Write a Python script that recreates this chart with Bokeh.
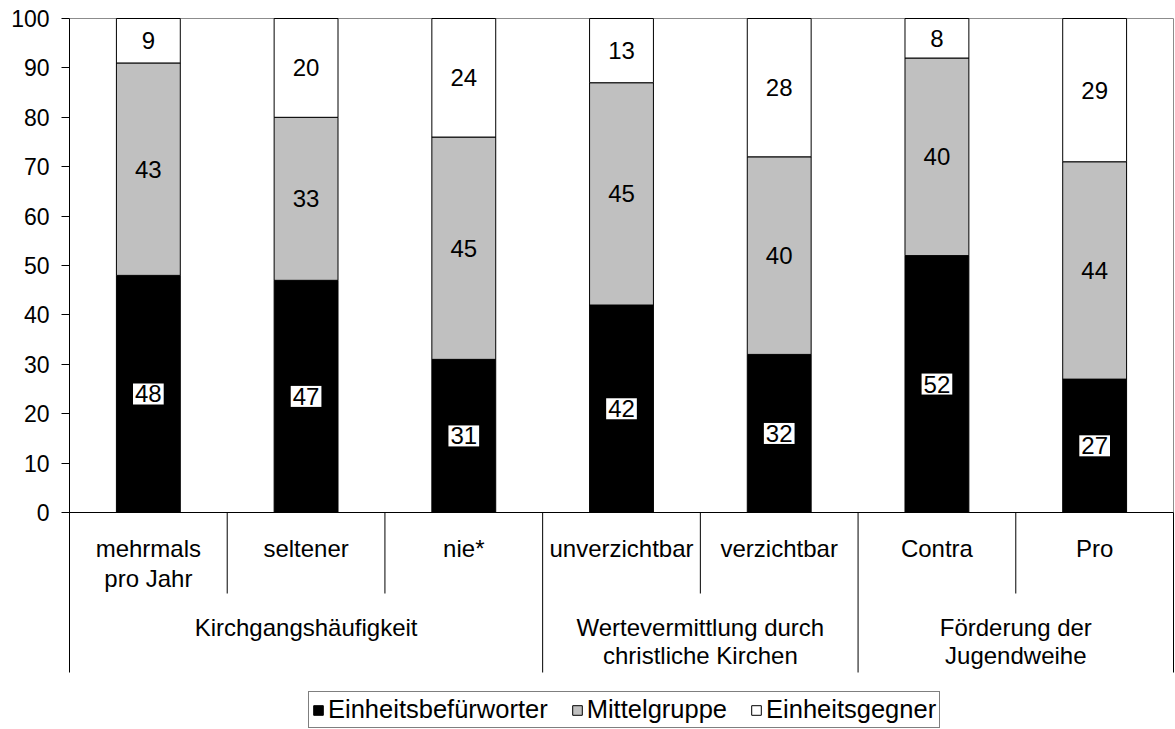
from bokeh.plotting import figure
from bokeh.models import (ColumnDataSource, LinearAxis, FixedTicker, Range1d,
                          Legend, LegendItem)
from bokeh.core.properties import value
from bokeh.embed import file_html
from bokeh.resources import INLINE

# ---------------- data ----------------
categories = ["mehrmals\npro Jahr", "seltener", "nie*", "unverzichtbar",
              "verzichtbar", "Contra", "Pro"]
groups = ["Kirchgangshäufigkeit", "Wertevermittlung durch\nchristliche Kirchen",
          "Förderung der\nJugendweihe"]
group_sizes = [3, 2, 2]
befuerworter = [48, 47, 31, 42, 32, 52, 27]
mittelgruppe = [43, 33, 45, 45, 40, 40, 44]
gegner = [9, 20, 24, 13, 28, 8, 29]
series_names = ["Einheitsbefürworter", "Mittelgruppe", "Einheitsgegner"]
series_colors = ["#000000", "#C0C0C0", "#FFFFFF"]
y_ticks = list(range(0, 101, 10))

# ---------------- layout ----------------
FONT = "Liberation Sans"
FS = "24px"
n = len(categories)
PXY = 4.94                     # pixels per y unit
W, H = 1175, 729
BL, BR, BT, BB = 69, 0, 16, 0
frame_w = W - BL - BR
frame_h = H - BT - BB
pxx = (frame_w - 2) / n        # pixels per x unit
x_end = frame_w / pxx
y_end = 100 + 2 / PXY
y_start = y_end - frame_h / PXY

def py(px_below_zero):
    return -px_below_zero / PXY

INNER_LINE_Y = [py(36), py(66)]
GROUP_LINE_Y = [py(115), py(143)]
INNER_DIV_BOTTOM = py(81)
GROUP_DIV_BOTTOM = py(160)

p = figure(width=W, height=H, output_backend="svg", toolbar_location=None,
           x_axis_type=None, y_axis_type=None,
           x_range=Range1d(0, x_end), y_range=Range1d(y_start, y_end),
           min_border_left=BL, min_border_right=BR, min_border_top=BT,
           min_border_bottom=BB, outline_line_color=None,
           background_fill_color="white", border_fill_color="white")
p.xgrid.visible = False
p.ygrid.visible = False

yaxis = LinearAxis(ticker=FixedTicker(ticks=y_ticks, minor_ticks=[]),
                   bounds=(GROUP_DIV_BOTTOM, 100),
                   major_tick_out=8, major_tick_in=0,
                   minor_tick_out=0, minor_tick_in=0,
                   axis_line_color="black", major_tick_line_color="black",
                   major_label_text_font=FONT, major_label_text_font_size="23px",
                   major_label_text_color="black", major_label_standoff=12)
p.add_layout(yaxis, "left")

# plot frame lines (top / right gray)
p.segment(x0=[0, n], y0=[100, 0], x1=[n, n], y1=[100, 100],
          line_color="#8c8c8c", line_width=1)

# bars
xs = [i + 0.5 for i in range(n)]
src = ColumnDataSource(dict(x=xs, b=befuerworter, m=mittelgruppe, g=gegner))
rends = p.vbar_stack(["b", "m", "g"], x="x", width=0.405, source=src,
                     fill_color=series_colors, line_color="black", line_width=1)

# x axis baseline
p.segment(x0=[0], y0=[0], x1=[n], y1=[0], line_color="black", line_width=1)

# dividers
group_bounds = []
acc = 0
for s in group_sizes:
    acc += s
    group_bounds.append(acc)
inner = [k for k in range(1, n) if k not in group_bounds]
p.segment(x0=inner, y0=[0] * len(inner), x1=inner,
          y1=[INNER_DIV_BOTTOM] * len(inner), line_color="black", line_width=1)
p.segment(x0=group_bounds, y0=[0] * len(group_bounds), x1=group_bounds,
          y1=[GROUP_DIV_BOTTOM] * len(group_bounds), line_color="black", line_width=1)

# category labels
lx, ly, lt = [], [], []
for i, c in enumerate(categories):
    for j, line in enumerate(c.split("\n")):
        lx.append(i + 0.5); ly.append(INNER_LINE_Y[j]); lt.append(line)
gstart = 0
for gname, s in zip(groups, group_sizes):
    for j, line in enumerate(gname.split("\n")):
        lx.append(gstart + s / 2); ly.append(GROUP_LINE_Y[j]); lt.append(line)
    gstart += s
p.text(x=lx, y=ly, text=lt, text_font=value(FONT), text_font_size=value(FS),
       text_align="center", text_baseline="middle", text_color="black")

# value labels
yb = [b / 2 for b in befuerworter]
ym = [b + m / 2 for b, m in zip(befuerworter, mittelgruppe)]
yg = [b + m + g / 2 for b, m, g in zip(befuerworter, mittelgruppe, gegner)]
p.text(x=xs, y=yb, text=[str(v) for v in befuerworter], text_font=value(FONT),
       text_font_size=value(FS), text_align="center", text_baseline="middle",
       text_color="black", background_fill_color="white", padding=2)
p.text(x=xs + xs, y=ym + yg, text=[str(v) for v in mittelgruppe + gegner],
       text_font=value(FONT), text_font_size=value(FS), text_align="center",
       text_baseline="middle", text_color="black")

# legend
legend = Legend(items=[LegendItem(label=nm, renderers=[r])
                       for nm, r in zip(series_names, rends)],
                orientation="horizontal", location=(239, 1),
                label_text_font=FONT, label_text_font_size="25.5px",
                label_text_color="black", glyph_width=12, glyph_height=12,
                label_standoff=4, spacing=23, padding=3, margin=0,
                border_line_color="black", border_line_width=1,
                background_fill_color="white", background_fill_alpha=1)
p.add_layout(legend, "center")

open("out.html", "w").write(file_html(p, INLINE))
